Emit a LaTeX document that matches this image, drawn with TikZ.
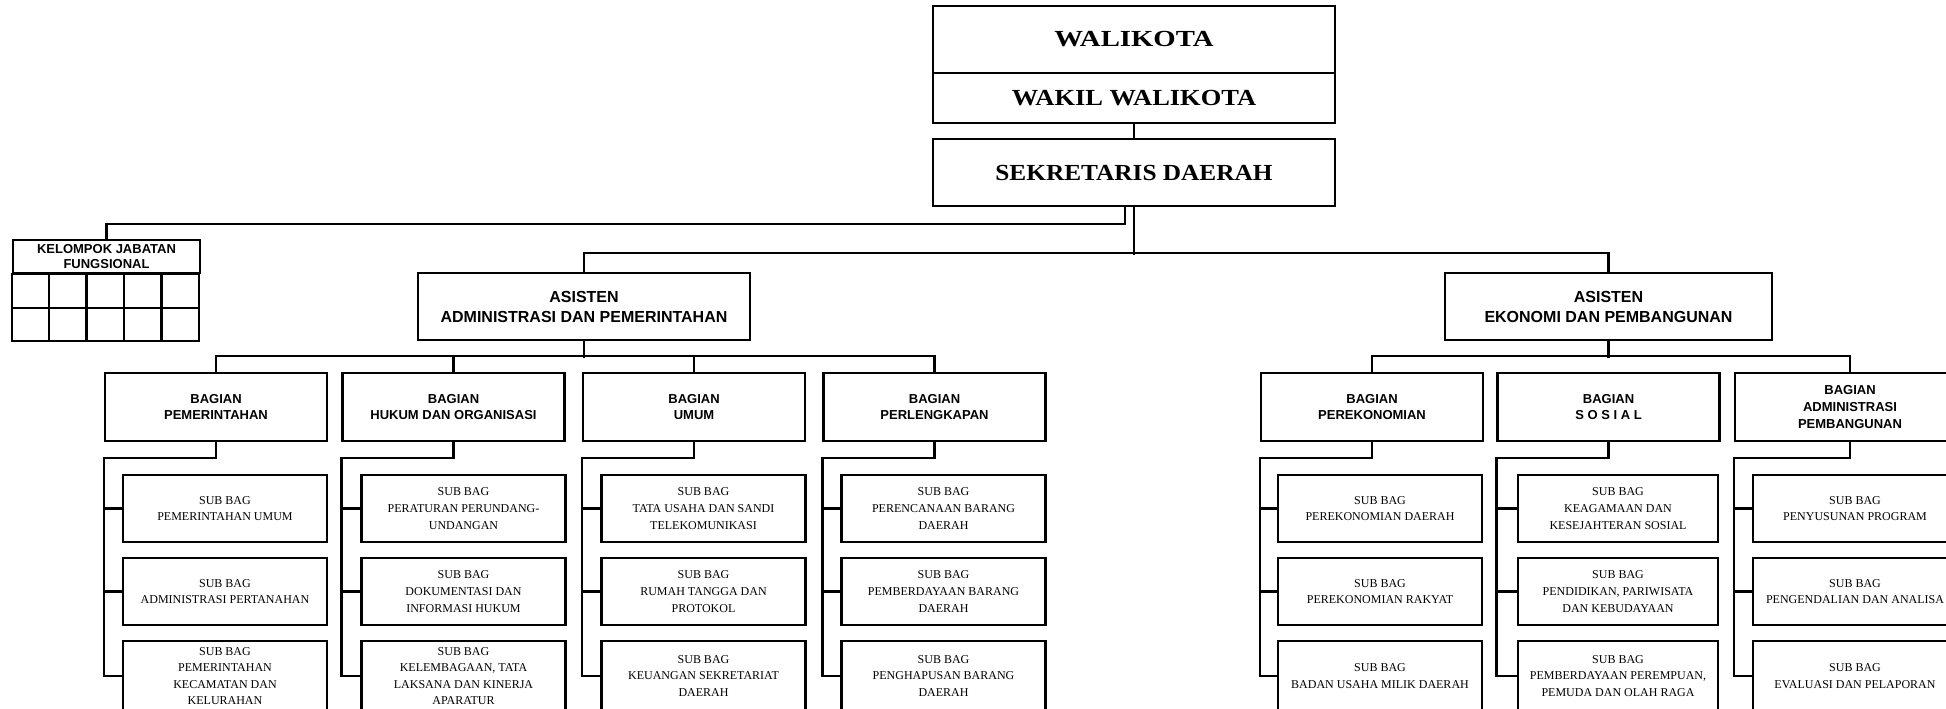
\documentclass[tikz,border=0pt]{standalone}
\usepackage{fontspec}
\setmainfont{Liberation Serif}
\newfontfamily\headsans{Liberation Sans}
\usepackage{tikz}
\usetikzlibrary{positioning}

\tikzset{
  topbox/.style={draw, line width=1.2pt, minimum width=201pt, inner sep=0pt,
    font=\fontsize{11.5}{14}\selectfont\bfseries},
  kjfbox/.style={draw, line width=1.2pt, minimum width=93.5pt, minimum height=16.5pt,
    inner sep=0pt, align=center, font=\headsans\bfseries\fontsize{6.5}{7.5}\selectfont},
  asbox/.style={draw, line width=1.2pt, minimum height=33.5pt, align=center,
    font=\headsans\bfseries\fontsize{8}{10}\selectfont},
  bagbox/.style={draw, line width=1.2pt, minimum width=111pt, minimum height=34pt,
    inner sep=1pt, align=center, font=\headsans\bfseries\fontsize{6.5}{8.3}\selectfont},
  subbox/.style={draw, line width=1.2pt, minimum width=102pt, minimum height=33.5pt,
    inner sep=1pt, align=center, font=\fontsize{6}{8.3}\selectfont},
  lastsub/.style={subbox, minimum height=35pt},
  link/.style={line width=1.2pt}
}

\begin{document}
\begin{tikzpicture}[x=0.5pt,y=-0.5pt]
\useasboundingbox (0,0) rectangle (1946,708);
\clip (0,0) rectangle (1946,708);
%top of the chart
\node[topbox, minimum height=33.5pt] (walikota) at (1134,39.5) {\scalebox{1.25}[1]{WALIKOTA}};
\node[topbox, minimum height=25pt] (wakil) at (1134,98) {\scalebox{1.15}[1]{WAKIL WALIKOTA}};
\node[topbox, minimum height=33.5pt] (sekda) at (1134,172.5) {\scalebox{1.1}[1]{SEKRETARIS DAERAH}};
\draw[link] (wakil.south) -- (sekda.north);
%kelompok jabatan fungsional
\node[kjfbox] (kjf) at (106.5,256.5) {KELOMPOK JABATAN\\FUNGSIONAL};
\draw[line width=1.2pt] (kjf.south west) rectangle ++(187,67);
\foreach \i in {1,...,4}{
   \draw[line width=1.2pt] ([xshift=\i*18.7pt]kjf.south west) -- ++(0,67);
}
\draw[line width=1.2pt] ([yshift=-16.75pt]kjf.south west) -- ++(187,0);
\draw[link] ([xshift=-4.5pt]sekda.south) -- +(0,17) -| (kjf.north);
% asisten
\node[asbox, minimum width=166pt] (asap) at (584,306.5) {ASISTEN\\ADMINISTRASI DAN PEMERINTAHAN};
\node[asbox, minimum width=163.5pt] (asep) at (1608.5,306.5) {ASISTEN\\EKONOMI DAN PEMBANGUNAN};
\draw[link] (sekda.south) -- +(0,48);
\draw[link] (asap.north) -- +(0,-19) -| (asep.north);
% bagian under asisten administrasi dan pemerintahan
\node[bagbox] (pem) at (216,407) {BAGIAN\\PEMERINTAHAN};
\node[bagbox] (huk) at (453.5,407) {BAGIAN\\HUKUM DAN ORGANISASI};
\node[bagbox] (umu) at (694,407) {BAGIAN\\UMUM};
\node[bagbox] (per) at (934.5,407) {BAGIAN\\PERLENGKAPAN};
\draw[link] (asap.south) -- +(0,17);
\draw[link] (pem.north) -- +(0,-16) -| (per.north);
\draw[link] (huk.north) -- +(0,-16);
\draw[link] (umu.north) -- +(0,-16);
% bagian under asisten ekonomi dan pembangunan
\node[bagbox] (eko) at (1372,407) {BAGIAN\\PEREKONOMIAN};
\node[bagbox] (sos) at (1608.5,407) {BAGIAN\\S O S I A L};
\node[bagbox, minimum width=115pt] (adm) at (1850,407) {BAGIAN\\ADMINISTRASI\\PEMBANGUNAN};
\draw[link] (asep.south) -- +(0,17);
\draw[link] (eko.north) -- +(0,-16) -| (adm.north);
% sub bagian pemerintahan
\node[subbox] (pem1) at (225,508.5) {SUB BAG\\PEMERINTAHAN UMUM};
\node[subbox] (pem2) at (225,591.5) {SUB BAG\\ADMINISTRASI PERTANAHAN};
\node[lastsub] (pem3) at (225,676) {SUB BAG\\PEMERINTAHAN\\KECAMATAN DAN\\KELURAHAN};
% sub bagian hukum dan organisasi
\node[subbox] (huk1) at (463.5,508.5) {SUB BAG\\PERATURAN PERUNDANG-\\UNDANGAN};
\node[subbox] (huk2) at (463.5,591.5) {SUB BAG\\DOKUMENTASI DAN\\INFORMASI HUKUM};
\node[lastsub] (huk3) at (463.5,676) {SUB BAG\\KELEMBAGAAN, TATA\\LAKSANA DAN KINERJA\\APARATUR};
% sub bagian umum
\node[subbox] (umu1) at (703.5,508.5) {SUB BAG\\TATA USAHA DAN SANDI\\TELEKOMUNIKASI};
\node[subbox] (umu2) at (703.5,591.5) {SUB BAG\\RUMAH TANGGA DAN\\PROTOKOL};
\node[lastsub] (umu3) at (703.5,676) {SUB BAG\\KEUANGAN SEKRETARIAT\\DAERAH};
% sub bagian perlengkapan
\node[subbox] (per1) at (943.5,508.5) {SUB BAG\\PERENCANAAN BARANG\\DAERAH};
\node[subbox] (per2) at (943.5,591.5) {SUB BAG\\PEMBERDAYAAN BARANG\\DAERAH};
\node[lastsub] (per3) at (943.5,676) {SUB BAG\\PENGHAPUSAN BARANG\\DAERAH};
% sub bagian perekonomian
\node[subbox] (eko1) at (1380,508.5) {SUB BAG\\PEREKONOMIAN DAERAH};
\node[subbox] (eko2) at (1380,591.5) {SUB BAG\\PEREKONOMIAN RAKYAT};
\node[lastsub] (eko3) at (1380,676) {SUB BAG\\BADAN USAHA MILIK DAERAH};
% sub bagian sosial
\node[subbox, minimum width=100pt] (sos1) at (1618,508.5) {SUB BAG\\KEAGAMAAN DAN\\KESEJAHTERAN SOSIAL};
\node[subbox, minimum width=100pt] (sos2) at (1618,591.5) {SUB BAG\\PENDIDIKAN, PARIWISATA\\DAN KEBUDAYAAN};
\node[lastsub, minimum width=100pt] (sos3) at (1618,676) {SUB BAG\\PEMBERDAYAAN PEREMPUAN,\\PEMUDA DAN OLAH RAGA};
% sub bagian administrasi pembangunan
\node[subbox] (adm1) at (1855,508.5) {SUB BAG\\PENYUSUNAN PROGRAM};
\node[subbox] (adm2) at (1855,591.5) {SUB BAG\\PENGENDALIAN DAN ANALISA};
\node[lastsub] (adm3) at (1855,676) {SUB BAG\\EVALUASI DAN PELAPORAN};
% draw spines to sub bagian
\foreach \bag in {pem,huk,umu,per,eko,sos,adm}{
   \draw[link] (\bag.south) -- +(0,16) -| (\bag1.west -| \bag.west) |- (\bag3.west);
   \draw[link] (\bag1.west -| \bag.west) -- (\bag1.west);
   \draw[link] (\bag2.west -| \bag.west) -- (\bag2.west);
}
\end{tikzpicture}
\end{document}
